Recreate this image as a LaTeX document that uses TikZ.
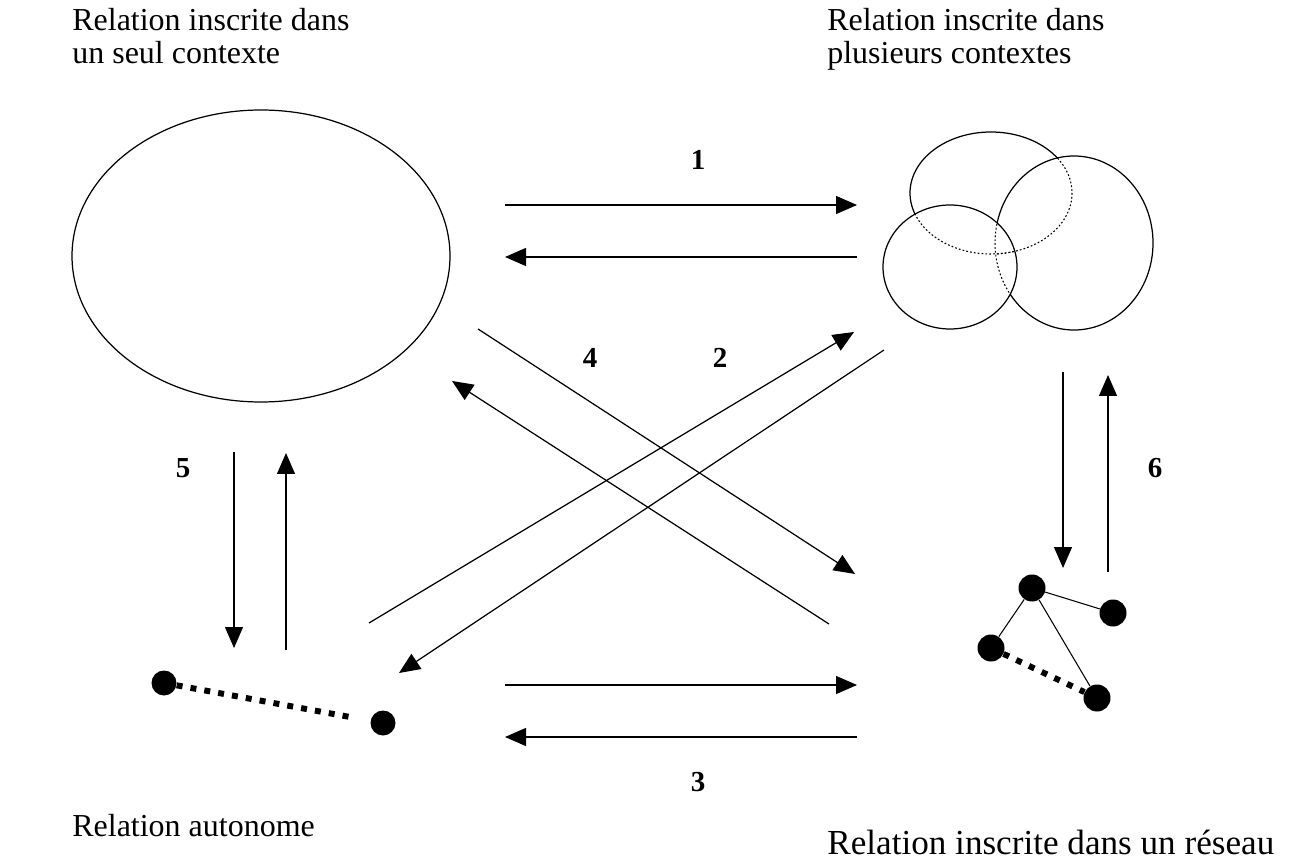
\documentclass[tikz,border=0pt]{standalone}
\usepackage{fontspec}
\setmainfont{Liberation Serif}
\usetikzlibrary{arrows.meta}
\begin{document}
\begin{tikzpicture}[x=0.02cm,y=-0.02cm,
  conn/.style={line width=0.7pt,-{Triangle[length=0.42cm,width=0.36cm]}},
  lbl/.style={font=\fontsize{18.2}{19}\selectfont, inner sep=0, anchor=base west},
  biglbl/.style={font=\fontsize{20}{21}\selectfont, inner sep=0, anchor=base west},
  num/.style={font=\fontsize{16.5}{16.5}\selectfont\bfseries, inner sep=0},
  blackdot/.style={circle, fill=black, inner sep=0, minimum size=0.5cm},
  netdot/.style={circle, fill=black, inner sep=0, minimum size=0.54cm},
  edgeline/.style={line width=0.6pt},
  shape line/.style={line width=0.7pt},
  hidden/.style={line width=0.6pt, dash pattern=on 1pt off 1.2pt},
  thickdots/.style={line width=3.4pt, dash pattern=on 3.4pt off 4.6pt}
]
\useasboundingbox (0,0) rectangle (1290,864);

% titles
\node[lbl] (t1a) at (72,31) {Relation inscrite dans};
\node[lbl] (t1b) at (72,64) {un seul contexte};
\node[lbl] (t2a) at (827,31) {Relation inscrite dans};
\node[lbl] (t2b) at (827,64) {plusieurs contextes};
\node[lbl] (t3) at (72,836) {Relation autonome};
\node[biglbl] (t4) at (827,854) {Relation inscrite dans un réseau};

% single context ellipse
\coordinate (single) at (261,256);
\draw[shape line] (single) ellipse [x radius=189, y radius=146];

% several contexts
\coordinate (cE) at (991,193);
\coordinate (cR) at (1074,243);
\coordinate (cL) at (950,267);
\draw[shape line] (cE) ellipse [x radius=81, y radius=61];
\filldraw[shape line, fill=white] (cR) ellipse [x radius=79, y radius=87];
\filldraw[shape line, fill=white] (cL) ellipse [x radius=67, y radius=62];
\begin{scope}
  \clip (cR) ellipse [x radius=79, y radius=87];
  \draw[hidden] (cE) ellipse [x radius=81, y radius=61];
\end{scope}
\begin{scope}
  \clip (cL) ellipse [x radius=67, y radius=62];
  \draw[hidden] (cE) ellipse [x radius=81, y radius=61];
  \draw[hidden] (cR) ellipse [x radius=79, y radius=87];
\end{scope}

% autonomous relation
\node[blackdot] (a1) at (164,683) {};
\node[blackdot] (a2) at (383,723) {};
\coordinate (aend) at (350,717);
\draw[thickdots] (a1) -- (aend);

% network
\node[netdot] (n1) at (1032,588) {};
\node[netdot] (n2) at (1113,613) {};
\node[netdot] (n3) at (991,648) {};
\node[netdot] (n4) at (1097,698) {};
\draw[edgeline] (n1) -- (n2);
\draw[edgeline] (n1) -- (n3);
\draw[edgeline] (n1) -- (n4);
\draw[thickdots] (n3) -- (n4);

% arrow end points
\coordinate (h1a) at (505,205); \coordinate (h1b) at (857,205);
\coordinate (h2a) at (857,257); \coordinate (h2b) at (505,257);
\coordinate (h3a) at (505,685); \coordinate (h3b) at (857,685);
\coordinate (h4a) at (857,737); \coordinate (h4b) at (505,737);
\coordinate (v1a) at (234,452); \coordinate (v1b) at (234,648);
\coordinate (v2a) at (286,650); \coordinate (v2b) at (286,453);
\coordinate (v3a) at (1063,372); \coordinate (v3b) at (1063,568);
\coordinate (v4a) at (1108,572); \coordinate (v4b) at (1108,375);
\coordinate (d1a) at (478,329); \coordinate (d1b) at (855,574);
\coordinate (d2a) at (829,624); \coordinate (d2b) at (452,381);
\coordinate (d3a) at (369,623); \coordinate (d3b) at (854,332);
\coordinate (d4a) at (884,350); \coordinate (d4b) at (399,673);

\draw[conn] (h1a) -- (h1b);
\draw[conn] (h2a) -- (h2b);
\draw[conn] (h3a) -- (h3b);
\draw[conn] (h4a) -- (h4b);
\draw[conn] (v1a) -- (v1b);
\draw[conn] (v2a) -- (v2b);
\draw[conn] (v3a) -- (v3b);
\draw[conn] (v4a) -- (v4b);
\draw[conn] (d1a) -- (d1b);
\draw[conn] (d2a) -- (d2b);
\draw[conn] (d3a) -- (d3b);
\draw[conn] (d4a) -- (d4b);

% numbers
\node[num] (l1) at (698,160) {1};
\node[num] (l4) at (590,358) {4};
\node[num] (l2) at (720,358) {2};
\node[num] (l5) at (183,468) {5};
\node[num] (l6) at (1155,468) {6};
\node[num] (l3) at (698,782) {3};
\end{tikzpicture}
\end{document}
